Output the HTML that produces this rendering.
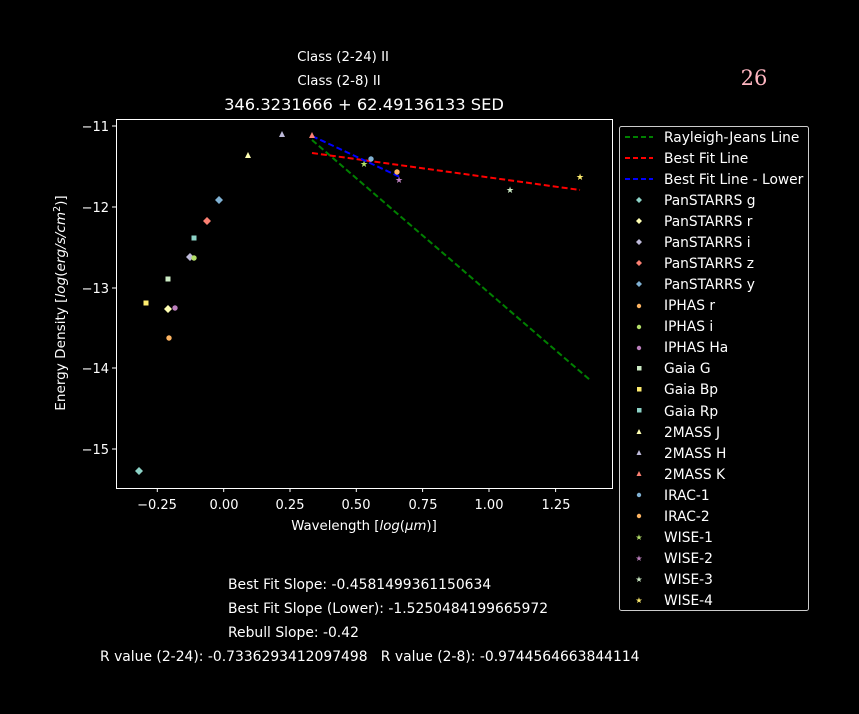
<!DOCTYPE html><html><head><style>body{margin:0;background:#000}</style></head><body>
<svg width="859" height="714" xmlns="http://www.w3.org/2000/svg" style="display:block;font-family:'DejaVu Sans','Liberation Sans',sans-serif" fill="#fff">
<rect width="859" height="714" fill="#000"/>
<text x="343" y="61" font-size="13.3" text-anchor="middle">Class (2-24) II</text>
<text x="339" y="85" font-size="13.3" text-anchor="middle">Class (2-8) II</text>
<text x="364" y="110" font-size="16.3" text-anchor="middle">346.3231666 + 62.49136133 SED</text>
<text x="754" y="85" font-size="21" fill="#ffb6c1" text-anchor="middle" font-family="'DejaVu Serif','Liberation Serif',serif">26</text>
<rect x="116.5" y="119.5" width="496" height="369" fill="none" stroke="#fff" stroke-width="1"/>
<g stroke="#fff"><line x1="157.3" y1="488" x2="157.3" y2="492"/><line x1="223.7" y1="488" x2="223.7" y2="492"/><line x1="290" y1="488" x2="290" y2="492"/><line x1="356.3" y1="488" x2="356.3" y2="492"/><line x1="422.6" y1="488" x2="422.6" y2="492"/><line x1="489" y1="488" x2="489" y2="492"/><line x1="555.6" y1="488" x2="555.6" y2="492"/>
<line x1="112" y1="126" x2="116" y2="126"/><line x1="112" y1="207" x2="116" y2="207"/><line x1="112" y1="288" x2="116" y2="288"/><line x1="112" y1="368" x2="116" y2="368"/><line x1="112" y1="449" x2="116" y2="449"/></g>
<g font-size="13" text-anchor="middle"><text x="157" y="509">−0.25</text><text x="224" y="509">0.00</text><text x="290" y="509">0.25</text><text x="356" y="509">0.50</text><text x="423" y="509">0.75</text><text x="489" y="509">1.00</text><text x="556" y="509">1.25</text></g>
<g font-size="13" text-anchor="end"><text x="109" y="131">−11</text><text x="109" y="212">−12</text><text x="109" y="293">−13</text><text x="109" y="373">−14</text><text x="109" y="454">−15</text></g>
<text x="364" y="530" font-size="13.3" text-anchor="middle">Wavelength [<tspan font-style="italic">log</tspan>(<tspan font-style="italic">μm</tspan>)]</text>
<text transform="translate(65,303) rotate(-90)" font-size="13.6" text-anchor="middle">Energy Density [<tspan font-style="italic">log</tspan>(<tspan font-style="italic">erg/s/cm</tspan><tspan font-size="9.5" dy="-5">2</tspan><tspan dy="5">)]</tspan></text>
<g stroke-width="2" stroke-dasharray="6,3" fill="none">
<line x1="312" y1="140" x2="590" y2="380" stroke="#008000"/>
<line x1="312" y1="153" x2="580" y2="190" stroke="#f00"/>
<line x1="312" y1="136" x2="400" y2="177" stroke="#00f"/>
</g>
<g stroke="none">
<path d="M139 467l4 4-4 4-4-4z" fill="#8dd3c7"/>
<path d="M168 305l4 4-4 4-4-4z" fill="#ffffb3"/>
<path d="M190 253l4 4-4 4-4-4z" fill="#bebada"/>
<path d="M207 217l4 4-4 4-4-4z" fill="#fb8072"/>
<path d="M219 196l4 4-4 4-4-4z" fill="#80b1d3"/>
<circle cx="169" cy="338" r="2.7" fill="#fdb462"/>
<circle cx="194" cy="258" r="2.7" fill="#b3de69"/>
<circle cx="175" cy="308" r="2.7" fill="#bc80bd"/>
<rect x="165.5" y="276.5" width="5" height="5" fill="#ccebc5"/>
<rect x="143.5" y="300.5" width="5" height="5" fill="#ffed6f"/>
<rect x="191.5" y="235.5" width="5" height="5" fill="#8dd3c7"/>
<path d="M248 152l3 6h-6z" fill="#ffffb3"/>
<path d="M282 131l3 6h-6z" fill="#bebada"/>
<path d="M312 132l3 6h-6z" fill="#fb8072"/>
<circle cx="371" cy="159" r="2.7" fill="#80b1d3"/>
<circle cx="397" cy="172" r="2.7" fill="#fdb462"/>
<text x="364" y="167" font-size="9" text-anchor="middle" fill="#b3de69">★</text>
<text x="399" y="183" font-size="9" text-anchor="middle" fill="#bc80bd">★</text>
<text x="510" y="193" font-size="9" text-anchor="middle" fill="#ccebc5">★</text>
<text x="580" y="180" font-size="9" text-anchor="middle" fill="#ffed6f">★</text>
</g>
<rect x="619.5" y="126.5" width="189" height="484" rx="2" fill="#000" stroke="#ccc"/>
<g stroke-width="2" stroke-dasharray="5,3"><line x1="625" y1="137" x2="653" y2="137" stroke="#008000"/><line x1="625" y1="158" x2="653" y2="158" stroke="#f00"/><line x1="625" y1="179" x2="653" y2="179" stroke="#00f"/></g>
<g font-size="13.8">
<text x="664" y="142">Rayleigh-Jeans Line</text><text x="664" y="163">Best Fit Line</text><text x="664" y="184">Best Fit Line - Lower</text>
<text x="664" y="205">PanSTARRS g</text><text x="664" y="226">PanSTARRS r</text><text x="664" y="247">PanSTARRS i</text><text x="664" y="268">PanSTARRS z</text><text x="664" y="289">PanSTARRS y</text>
<text x="664" y="310">IPHAS r</text><text x="664" y="331">IPHAS i</text><text x="664" y="352">IPHAS Ha</text>
<text x="664" y="373">Gaia G</text><text x="664" y="394">Gaia Bp</text><text x="664" y="416">Gaia Rp</text>
<text x="664" y="437">2MASS J</text><text x="664" y="458">2MASS H</text><text x="664" y="479">2MASS K</text>
<text x="664" y="500">IRAC-1</text><text x="664" y="521">IRAC-2</text>
<text x="664" y="542">WISE-1</text><text x="664" y="563">WISE-2</text><text x="664" y="584">WISE-3</text><text x="664" y="605">WISE-4</text>
</g>
<g>
<path d="M639 197l3 3-3 3-3-3z" fill="#8dd3c7"/><path d="M639 218l3 3-3 3-3-3z" fill="#ffffb3"/><path d="M639 239l3 3-3 3-3-3z" fill="#bebada"/><path d="M639 260l3 3-3 3-3-3z" fill="#fb8072"/><path d="M639 281l3 3-3 3-3-3z" fill="#80b1d3"/>
<circle cx="639" cy="306" r="2.2" fill="#fdb462"/><circle cx="639" cy="327" r="2.2" fill="#b3de69"/><circle cx="639" cy="348" r="2.2" fill="#bc80bd"/>
<rect x="637" y="366" width="4.5" height="4.5" fill="#ccebc5"/><rect x="637" y="387" width="4.5" height="4.5" fill="#ffed6f"/><rect x="637" y="408" width="4.5" height="4.5" fill="#8dd3c7"/>
<path d="M639 429l2.5 5h-5z" fill="#ffffb3"/><path d="M639 450l2.5 5h-5z" fill="#bebada"/><path d="M639 471l2.5 5h-5z" fill="#fb8072"/>
<circle cx="639" cy="495" r="2.2" fill="#80b1d3"/><circle cx="639" cy="516" r="2.2" fill="#fdb462"/>
<g font-size="8" text-anchor="middle"><text x="639" y="540" fill="#b3de69">★</text><text x="639" y="561" fill="#bc80bd">★</text><text x="639" y="582" fill="#ccebc5">★</text><text x="639" y="603" fill="#ffed6f">★</text></g>
</g>
<g font-size="13.9">
<text x="228" y="589">Best Fit Slope: -0.4581499361150634</text>
<text x="228" y="613">Best Fit Slope (Lower): -1.5250484199665972</text>
<text x="228" y="637">Rebull Slope: -0.42</text>
<text x="100" y="661" xml:space="preserve" style="white-space:pre">R value (2-24): -0.7336293412097498   R value (2-8): -0.9744564663844114</text>
</g>
</svg></body></html>
